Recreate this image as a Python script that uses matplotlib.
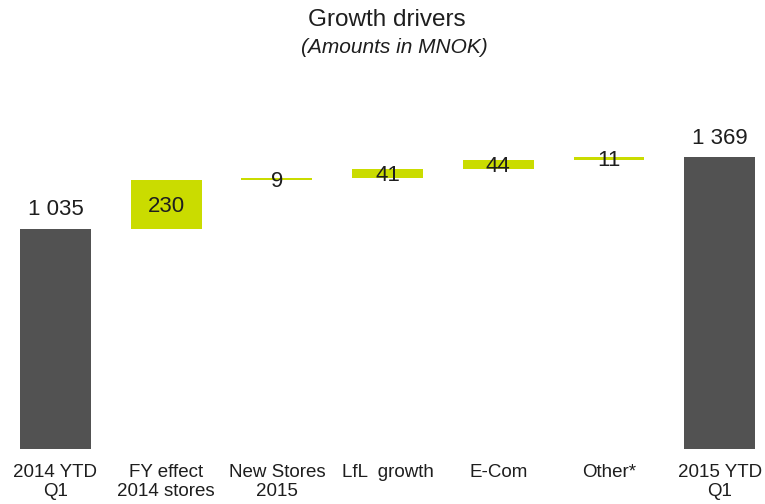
import numpy as np
import matplotlib
matplotlib.use('Agg')
import matplotlib.pyplot as plt

plt.rcParams['font.family'] = ['Liberation Sans', 'DejaVu Sans']

# 数据
categories = ['2014 YTD\nQ1', 'FY effect\n2014 stores', 'New Stores\n2015', 'LfL  growth',
              'E-Com', 'Other*', '2015 YTD\nQ1']
values = [1035, 230, 9, 41, 44, 11, 1369]
labels = ['1 035', '230', '9', '41', '44', '11', '1 369']
is_total = [True, False, False, False, False, False, True]

dark = '#525252'
green = '#cadc00'
txt = '#1e1e1e'

fig = plt.figure(figsize=(7.65, 5.04), dpi=100)
ax = fig.add_axes([0, 0.109, 1, 0.891])

# 计算每根柱子的底部
bottoms = []
run = 0
for v, t in zip(values, is_total):
    if t:
        bottoms.append(0)
        run = v
    else:
        bottoms.append(run)
        run += v

x = np.arange(len(values))
colors = [dark if t else green for t in is_total]
ax.bar(x, values, bottom=bottoms, width=0.64, color=colors, linewidth=0)

for i in range(len(values)):
    if is_total[i]:
        ax.annotate(labels[i], (x[i], values[i]), xytext=(0, 13.5), textcoords='offset points',
                    ha='center', va='center', fontsize=16, color=txt)
    else:
        ax.text(x[i], bottoms[i] + values[i] / 2, labels[i], ha='center', va='center_baseline',
                fontsize=16, color=txt)

ax.set_xlim(-0.501, 6.409)
ax.set_ylim(0, 2108)
ax.set_xticks(x)
ax.set_xticklabels(categories, fontsize=13.5, color=txt, linespacing=1.15)
ax.tick_params(axis='x', length=0, pad=11)
ax.set_yticks([])
for s in ax.spines.values():
    s.set_visible(False)

fig.text(0.505, 0.96, 'Growth drivers', ha='center', va='center', fontsize=17.5, color=txt)
fig.text(0.515, 0.905, '(Amounts in MNOK)', ha='center', va='center', fontsize=15,
         style='italic', color=txt)

fig.savefig('out.png', dpi=100)
